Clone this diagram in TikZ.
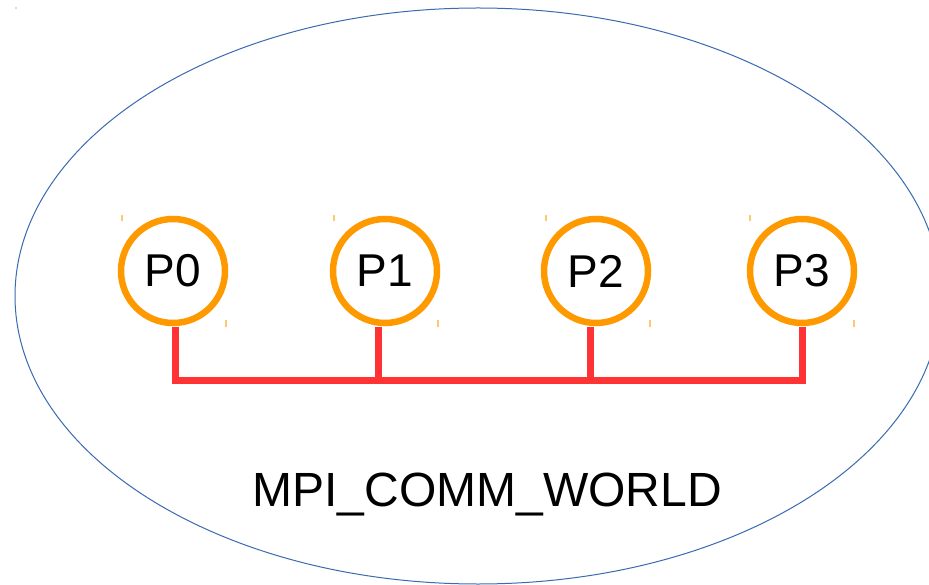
\documentclass[tikz,border=0pt]{standalone}
\usepackage{fontspec}
\setmainfont{Liberation Sans}
\definecolor{proc}{HTML}{FF9900}
\definecolor{bus}{HTML}{FF3333}
\definecolor{world}{HTML}{3A6AB0}
\definecolor{tick}{HTML}{FFC870}
\begin{document}
\begin{tikzpicture}[x=1pt,y=-1pt,
  procnode/.style={circle,draw=proc,line width=6.5pt,minimum size=104pt,inner sep=0pt,
    font=\fontsize{46}{50}\selectfont},
  busline/.style={draw=bus,line width=7pt},
  tickmark/.style={draw=tick,line width=1.2pt}]
\useasboundingbox (0,0) rectangle (929,585);
\clip (0,0) rectangle (929,585);
\fill[white] (0,0) rectangle (929,585);
\draw[world,line width=1pt] (478,296) ellipse [x radius=463, y radius=288];
\fill[world] (16,8) circle (0.7);
\node[procnode] (p0) at (173,271) {P0};
\node[procnode] (p1) at (385,271) {P1};
\node[procnode] (p2) at (596,271) {P2};
\node[procnode] (p3) at (802,271) {P3};
\foreach \n/\x in {p0/122,p1/334,p2/546,p3/750}{
  \draw[tickmark] (\x,215) -- (\x,221);
  \draw[tickmark] (\x+104,320) -- (\x+104,327);
}
\coordinate (b0) at (175,380);
\coordinate (b1) at (378,380);
\coordinate (b2) at (590,380);
\coordinate (b3) at (802,380);
\coordinate (t0) at (175,327);
\coordinate (t1) at (378,327);
\coordinate (t2) at (590,327);
\coordinate (t3) at (802,327);
\draw[busline] (t0) -- (b0) -- (b3) -- (t3);
\draw[busline] (t1) -- (b1);
\draw[busline] (t2) -- (b2);
\node[font=\fontsize{48}{52}\selectfont,anchor=base] (label) at (487,506) {MPI\_COMM\_WORLD};
\end{tikzpicture}
\end{document}
